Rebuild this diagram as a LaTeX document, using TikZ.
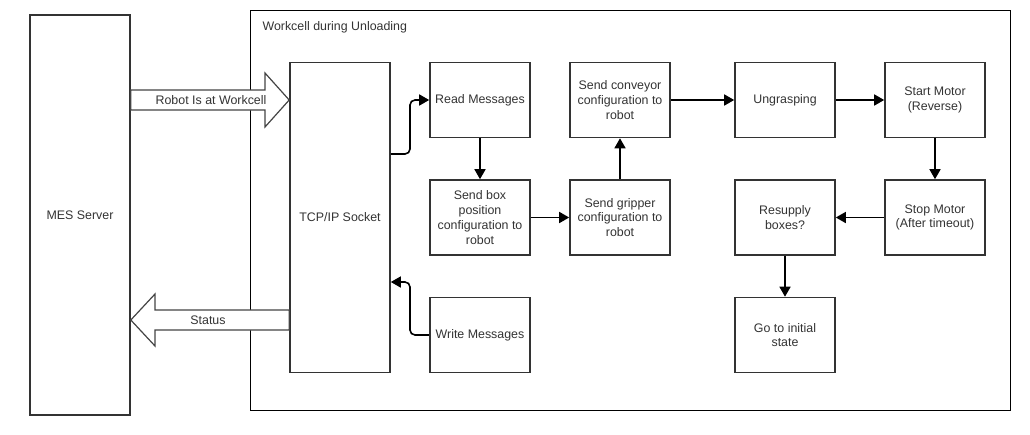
\documentclass[tikz,border=0pt]{standalone}
\usepackage{fontspec}
\setmainfont{Liberation Sans}
\usetikzlibrary{arrows.meta}

\definecolor{boxline}{HTML}{333333}
\definecolor{fatline}{HTML}{444444}

\begin{document}
\begin{tikzpicture}[x=1pt, y=-1pt,
    step box/.style ={draw=boxline, line width=1.6pt, fill=white, align=center,
      minimum width=100pt, minimum height=75pt, inner sep=2pt,
      text=boxline, font=\fontsize{12.4}{14.8}\selectfont},
    flow/.style ={line width=1.6pt, -{Triangle[length=10pt,width=11pt]}},
    fat arrow/.style ={draw=fatline, line width=1.2pt, fill=white, line join=miter},
    label text/.style ={text=boxline, font=\fontsize{12.4}{14.8}\selectfont}]
   \useasboundingbox (0,0) rectangle (1030,434);
   % workcell frame
   \node[draw=black, line width=0.9pt, minimum width=760pt, minimum height=400pt,
     inner sep=0pt] (cell) at (630,210) {};
   \node[label text, anchor=west] (title) at (259,27) {Workcell during Unloading};
   % server and socket
   \node[step box, minimum height=400pt] (mes) at (80,215) {MES Server};
   \node[step box, minimum height=310pt] (tcp) at (340,217.5) {TCP/IP Socket};
   % fat arrows between server and socket
   \draw[fat arrow] (mes.east |- 0,90) -- (265,90) -- (265,73) -- (tcp.west |- 0,100)
     -- (265,127) -- (265,110) -- (mes.east |- 0,110) -- cycle;
   \node[label text] (robotat) at (211,100) {Robot Is at Workcell};
   \draw[fat arrow] (tcp.west |- 0,310) -- (155,310) -- (155,294) -- (mes.east |- 0,320)
     -- (155,346) -- (155,330) -- (tcp.west |- 0,330) -- cycle;
   \node[label text] (status) at (208,320) {Status};
   % steps
   \node[step box] (read) at (480,100) {Read Messages};
   \node[step box] (boxpos) at (480,217.5) {Send box\\position\\configuration to\\robot};
   \node[step box] (write) at (480,335) {Write Messages};
   \node[step box] (gripper) at (620,217.5) {Send gripper\\configuration to\\robot};
   \node[step box] (conveyor) at (620,100) {Send conveyor\\configuration to\\robot};
   \node[step box] (ungrasp) at (785,100) {Ungrasping};
   \node[step box] (start) at (935,100) {Start Motor\\(Reverse)};
   \node[step box] (stop) at (935,217.5) {Stop Motor\\(After timeout)};
   \node[step box] (resupply) at (785,217.5) {Resupply\\boxes?};
   \node[step box] (init) at (785,335) {Go to initial\\state};
   % connectors
   \draw[flow, rounded corners=5pt] (tcp.east |- 0,154) -| (410,100) -- (read.west);
   \draw[flow, rounded corners=5pt] (write.west) -| (410,282) -- (tcp.east |- 0,282);
   \draw[flow] (read) to (boxpos);
   \draw[flow] (boxpos) to (gripper);
   \draw[flow] (gripper) to (conveyor);
   \draw[flow] (conveyor) to (ungrasp);
   \draw[flow] (ungrasp) to (start);
   \draw[flow] (start) to (stop);
   \draw[flow] (stop) to (resupply);
   \draw[flow] (resupply) to (init);
\end{tikzpicture}
\end{document}
